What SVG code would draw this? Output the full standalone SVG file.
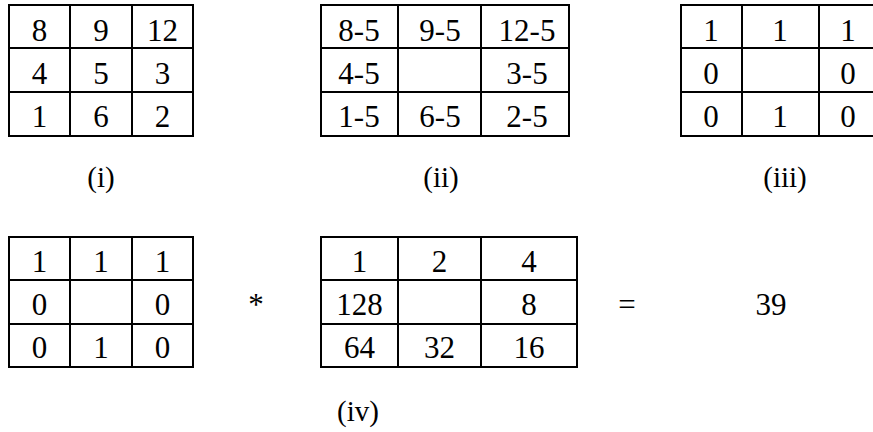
<svg xmlns="http://www.w3.org/2000/svg" width="873" height="432" viewBox="0 0 873 432">
<style>
.g{fill:none;stroke:#000;stroke-width:2}
.t{font-size:31px;fill:#000;text-anchor:middle}
.l{font-size:29px;fill:#000;text-anchor:middle}
</style>
<rect width="873" height="432" fill="#fff"/>
<g font-family="Liberation Serif, DejaVu Serif, serif">
<g id="grid-i">
<rect class="g" x="9" y="5" width="184" height="131"/>
<path class="g" d="M70 5V136M132 5V136M9 48H193M9 92H193"/>
<text class="t" x="39.5" y="41">8</text><text class="t" x="101" y="41">9</text><text class="t" x="162.5" y="41">12</text>
<text class="t" x="39.5" y="84">4</text><text class="t" x="101" y="84">5</text><text class="t" x="162.5" y="84">3</text>
<text class="t" x="39.5" y="127">1</text><text class="t" x="101" y="127">6</text><text class="t" x="162.5" y="127">2</text>
</g>
<g id="grid-ii">
<rect class="g" x="321" y="5" width="248" height="131"/>
<path class="g" d="M398 5V136M481 5V136M321 48H569M321 92H569"/>
<text class="t" x="359" y="41">8-5</text><text class="t" x="440" y="41">9-5</text><text class="t" x="527" y="41">12-5</text>
<text class="t" x="359" y="84">4-5</text><text class="t" x="527" y="84">3-5</text>
<text class="t" x="359" y="127">1-5</text><text class="t" x="440" y="127">6-5</text><text class="t" x="527" y="127">2-5</text>
</g>
<g id="grid-iii">
<rect class="g" x="681" y="5" width="197" height="131"/>
<path class="g" d="M742 5V136M819 5V136M681 48H878M681 92H878"/>
<text class="t" x="711" y="41">1</text><text class="t" x="780" y="41">1</text><text class="t" x="848" y="41">1</text>
<text class="t" x="711" y="84">0</text><text class="t" x="848" y="84">0</text>
<text class="t" x="711" y="127">0</text><text class="t" x="780" y="127">1</text><text class="t" x="848" y="127">0</text>
</g>
<g id="labels">
<text class="l" x="101" y="187">(i)</text>
<text class="l" x="441" y="187">(ii)</text>
<text class="l" x="785" y="187">(iii)</text>
<text class="l" x="358" y="421">(iv)</text>
</g>
<g id="grid-iv-a">
<rect class="g" x="9" y="237" width="184" height="130"/>
<path class="g" d="M70 237V367M132 237V367M9 280H193M9 324H193"/>
<text class="t" x="39.5" y="272">1</text><text class="t" x="101" y="272">1</text><text class="t" x="162.5" y="272">1</text>
<text class="t" x="39.5" y="315">0</text><text class="t" x="162.5" y="315">0</text>
<text class="t" x="39.5" y="358">0</text><text class="t" x="101" y="358">1</text><text class="t" x="162.5" y="358">0</text>
</g>
<g id="op-mul"><text class="t" x="256" y="315">*</text></g>
<g id="grid-iv-b">
<rect class="g" x="321" y="237" width="256" height="130"/>
<path class="g" d="M398 237V367M481 237V367M321 280H577M321 324H577"/>
<text class="t" x="359.5" y="272">1</text><text class="t" x="439.5" y="272">2</text><text class="t" x="529" y="272">4</text>
<text class="t" x="359.5" y="315">128</text><text class="t" x="529" y="315">8</text>
<text class="t" x="359.5" y="358">64</text><text class="t" x="439.5" y="358">32</text><text class="t" x="529" y="358">16</text>
</g>
<g id="op-eq"><text class="t" x="627" y="315">=</text></g>
<g id="result"><text class="t" x="771" y="315">39</text></g>
</g>
</svg>
